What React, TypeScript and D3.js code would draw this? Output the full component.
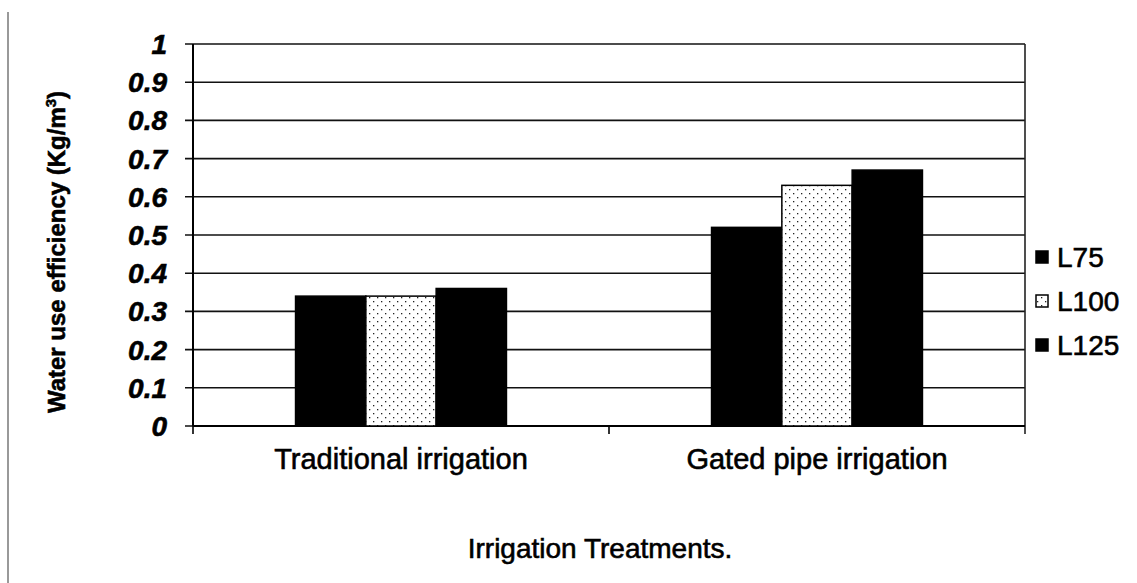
import React from "react";
import * as d3 from "d3";

const categories = ["Traditional irrigation", "Gated pipe irrigation"];
const seriesNames = ["L75", "L100", "L125"];
const L75 = [0.34, 0.52];
const L100 = [0.34, 0.63];
const L125 = [0.36, 0.67];
const yTicks = [0, 0.1, 0.2, 0.3, 0.4, 0.5, 0.6, 0.7, 0.8, 0.9, 1];
const yTickLabels = ["0", "0.1", "0.2", "0.3", "0.4", "0.5", "0.6", "0.7", "0.8", "0.9", "1"];

const W = 1137;
const H = 583;
const FONT = "'Liberation Sans', Arial, sans-serif";

export default function App() {
  const plot = { left: 193, right: 1025, top: 44, bottom: 426 };
  const y = d3.scaleLinear().domain([0, 1]).range([plot.bottom, plot.top]);
  const x0 = d3.scaleBand<string>().domain(categories).range([plot.left, plot.right]).padding(0);
  const groupW = x0.bandwidth() * 0.507;
  const x1 = d3.scaleBand<string>().domain(seriesNames).range([0, groupW]).padding(0);
  const values: Record<string, number[]> = { L75, L100, L125 };
  const fills: Record<string, string> = { L75: "#000", L100: "url(#dots)", L125: "#000" };
  const heavy = { stroke: "#000", strokeWidth: 0.6 };

  return (
    <svg width={W} height={H} style={{ position: "absolute", left: 0, top: 0, background: "#fff" }}>
      <defs>
        <pattern id="dots" width="8" height="8" patternUnits="userSpaceOnUse">
          <rect width="8" height="8" fill="#fff" />
          <rect x="1" y="1" width="1.3" height="1.3" fill="#222" />
          <rect x="5" y="5" width="1.3" height="1.3" fill="#222" />
        </pattern>
      </defs>
      <line x1={8} x2={8} y1={12} y2={583} stroke="#999" strokeWidth={2} />
      {/* gridlines */}
      {yTicks.map((t) => (
        <line key={t} x1={plot.left - 8} x2={plot.right} y1={y(t)} y2={y(t)} stroke="#111" strokeWidth={1.6} />
      ))}
      {/* axes/border */}
      <line x1={plot.left} x2={plot.left} y1={plot.top} y2={plot.bottom} stroke="#000" strokeWidth={2} />
      <line x1={plot.right} x2={plot.right} y1={plot.top} y2={plot.bottom + 8} stroke="#222" strokeWidth={1.6} />
      <line x1={plot.left} x2={plot.right} y1={plot.bottom} y2={plot.bottom} stroke="#000" strokeWidth={2} />
      {x0.domain().map((c) => (
        <line key={c} x1={x0(c)!} x2={x0(c)!} y1={plot.bottom} y2={plot.bottom + 8} stroke="#000" strokeWidth={1.6} />
      ))}
      {/* bars */}
      {categories.map((c, ci) => {
        const gx = x0(c)! + (x0.bandwidth() - groupW) / 2;
        return seriesNames.map((s) => (
          <rect
            key={c + s}
            x={gx + x1(s)!}
            y={y(values[s][ci])}
            width={x1.bandwidth()}
            height={plot.bottom - y(values[s][ci])}
            fill={fills[s]}
            stroke="#000"
            strokeWidth={1.5}
          />
        ));
      })}
      {/* y tick labels */}
      {yTicks.map((t, i) => (
        <text
          key={t}
          x={167}
          y={y(t)}
          dy="0.36em"
          textAnchor="end"
          fontFamily={FONT}
          fontWeight="bold"
          fontStyle="italic"
          fontSize={28}
          fill="#000"
          {...heavy}
        >
          {yTickLabels[i]}
        </text>
      ))}
      {/* x tick labels */}
      {categories.map((c) => (
        <text
          key={c}
          x={x0(c)! + x0.bandwidth() / 2}
          y={469}
          textAnchor="middle"
          fontFamily={FONT}
          fontSize={29}
          fill="#000"
          {...heavy}
        >
          {c}
        </text>
      ))}
      {/* axis titles */}
      <text x={600} y={558} textAnchor="middle" fontFamily={FONT} fontSize={28} fill="#000" {...heavy}>
        Irrigation Treatments.
      </text>
      <text
        transform="translate(65,252) rotate(-90)"
        textAnchor="middle"
        fontFamily={FONT}
        fontWeight="bold"
        fontSize={24}
        fill="#000"
        {...heavy}
      >
        Water use efficiency (Kg/m
        <tspan dy={-9} fontSize={15}>3</tspan>
        <tspan dy={9}>)</tspan>
      </text>
      {/* legend */}
      {seriesNames.map((s, i) => {
        const cy = 257 + i * 44;
        return (
          <g key={s}>
            <rect x={1036} y={cy - 6} width={12} height={12} fill={fills[s]} stroke="#000" strokeWidth={1.5} />
            <text x={1057} y={cy} dy="0.36em" fontFamily={FONT} fontSize={28} fill="#000" {...heavy}>
              {s}
            </text>
          </g>
        );
      })}
    </svg>
  );
}
